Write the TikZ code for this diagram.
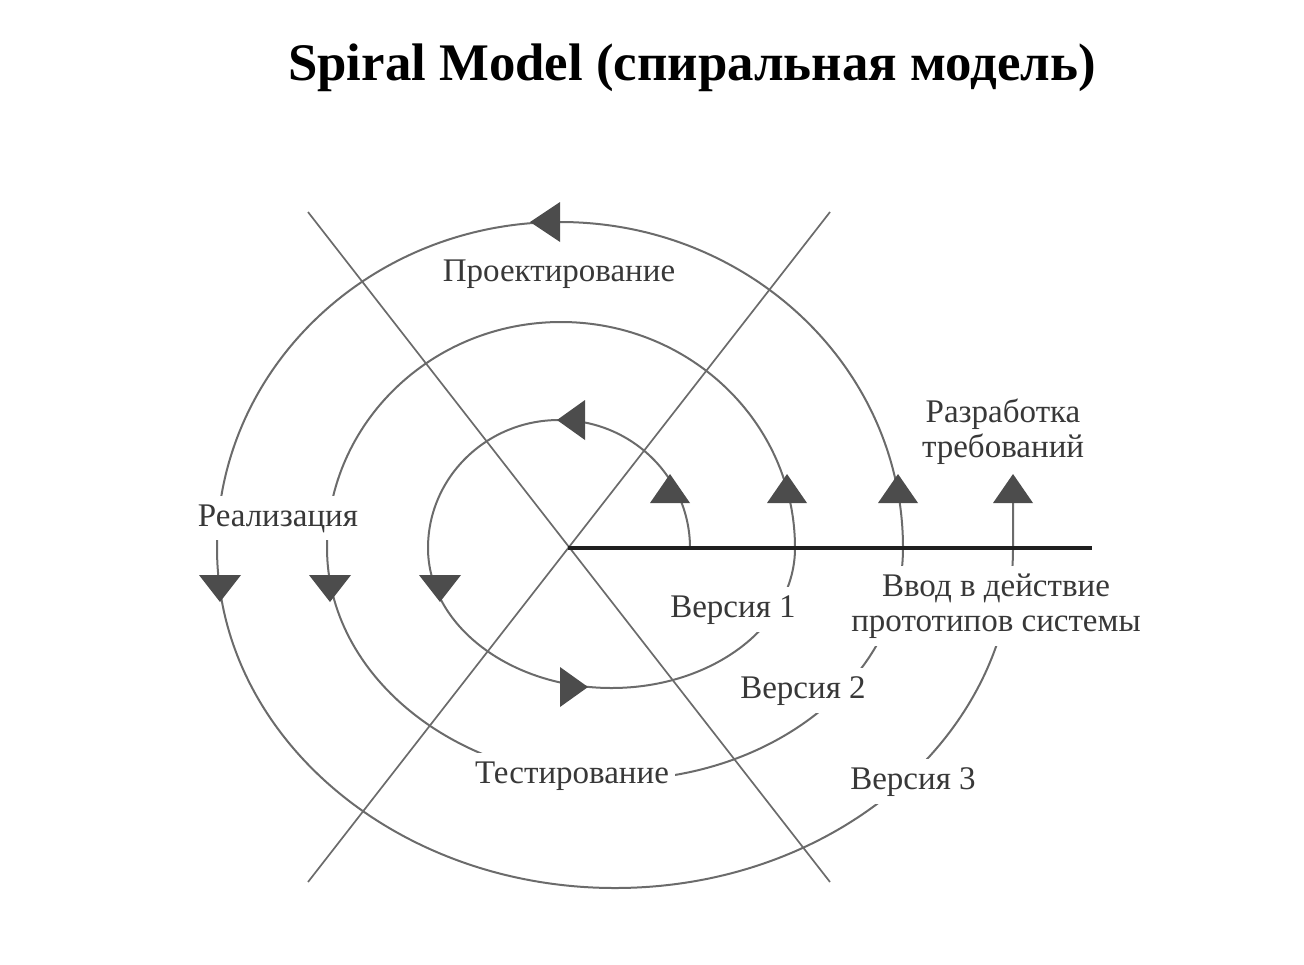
\documentclass[tikz,border=0pt]{standalone}
\usepackage{fontspec}
\setmainfont{Liberation Serif}
\usepackage{tikz}
\usetikzlibrary{positioning, calc}

\definecolor{linegray}{gray}{0.42}
\definecolor{arrowgray}{gray}{0.3}
\definecolor{textgray}{gray}{0.22}

\begin{document}
\begin{tikzpicture}[
  x=0.5pt, y=-0.5pt,
  every node/.style={font=\fontsize{16.5}{17.5}\selectfont, text=textgray},
  axis/.style={draw=linegray, line width=0.85pt},
  hline/.style={draw=black!88, line width=1.7pt},
  spiral/.style={draw=linegray, line width=1pt},
  phase/.style={fill=white, inner xsep=3pt, inner ysep=4pt, align=center},
  tip/.style={fill=arrowgray}
]
\useasboundingbox (0,0) rectangle (1304,964);

% Title
\node[font=\fontsize{26.4}{30}\selectfont\bfseries, text=black] (title) at (692,68)
  {Spiral Model (спиральная модель)};

% Crossing lines and the axis
\coordinate (o) at (568,548);
\coordinate (nw) at (308,212);
\coordinate (se) at (830,882);
\coordinate (ne) at (830,212);
\coordinate (sw) at (308,882);
\coordinate (east) at (1092,548);
\draw[axis] (nw) -- (se);
\draw[axis] (ne) -- (sw);

% The spiral: upper and lower half-loops
\draw[spiral] (690,548)
  arc[start angle=0, end angle=-180, x radius=131, y radius=128]
  arc[start angle=180, end angle=0, x radius=183.5, y radius=140]
  arc[start angle=0, end angle=-180, x radius=234, y radius=226]
  arc[start angle=180, end angle=0, x radius=288, y radius=232]
  arc[start angle=0, end angle=-180, x radius=343, y radius=326]
  arc[start angle=180, end angle=0, x radius=398, y radius=340]
  -- (1013,503);

\draw[hline] (o) -- (east);

% Arrow heads
\foreach \x in {670,787,898,1013}
  \fill[tip] (\x,474) -- (\x-20,503) -- (\x+20,503) -- cycle;
\foreach \x in {220,330,440}
  \fill[tip] (\x,602) -- (\x-21,575) -- (\x+21,575) -- cycle;
\fill[tip] (530,222) -- (560,202) -- (560,242) -- cycle;
\fill[tip] (557,420) -- (585,400) -- (585,440) -- cycle;
\fill[tip] (588,687) -- (560,667) -- (560,707) -- cycle;

% Phases and versions
\node[phase, anchor=base] (design) at (559,281) {Проектирование};
\node[phase] (reqs) at (1003,432) {Разработка\\требований};
\node[phase, anchor=base] (impl) at (278,526) {Реализация};
\node[phase, anchor=base] (v1) at (733,617) {Версия 1};
\node[phase] (deploy) at (996,606) {Ввод в действие\\прототипов системы};
\node[phase, anchor=base] (v2) at (803,698) {Версия 2};
\node[phase, anchor=base] (test) at (572,783) {Тестирование};
\node[phase, anchor=base] (v3) at (913,789) {Версия 3};

\end{tikzpicture}
\end{document}
